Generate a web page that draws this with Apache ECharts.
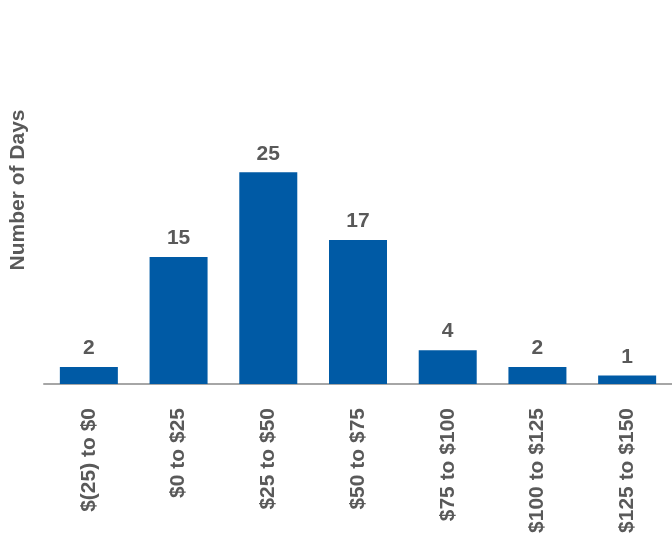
<!DOCTYPE html>
<html><head><meta charset="utf-8">
<script src="https://cdn.jsdelivr.net/npm/echarts@6/dist/echarts.min.js"></script>
<style>html,body{margin:0;padding:0;background:#fff}#c{width:672px;height:550px}</style>
</head><body><div id="c"></div>
<script>
const categories = ['$(25) to $0','$0 to $25','$25 to $50','$50 to $75','$75 to $100','$100 to $125','$125 to $150'];
const days = [2, 15, 25, 17, 4, 2, 1];
const yTitle = 'Number of Days';

const chart = echarts.init(document.getElementById('c'), null, {renderer:'canvas'});
const font = 'Liberation Sans, Arial, sans-serif';
chart.setOption({
  animation: false,
  grid: {left: 44, right: 0, top: 130, bottom: 166},
  graphic: [{
    type: 'text', x: 18, y: 190, rotation: Math.PI / 2,
    style: {text: yTitle, fill: '#595959', font: 'bold 21px ' + font, textAlign: 'center', textVerticalAlign: 'middle'}
  }],
  xAxis: {
    type: 'category', data: categories,
    axisLine: {lineStyle: {color: '#a6a6a6', width: 2}},
    axisTick: {show: false},
    axisLabel: {rotate: 90, margin: 24, color: '#595959', fontSize: 21, fontWeight: 'bold', fontFamily: font}
  },
  yAxis: {
    type: 'value', min: 0, max: 30, show: false
  },
  series: [{
    type: 'bar', data: days, barWidth: 58,
    itemStyle: {color: '#005aa5'},
    label: {show: true, position: 'top', distance: 8, color: '#595959', fontSize: 21, fontWeight: 'bold', fontFamily: font}
  }]
});
</script></body></html>
